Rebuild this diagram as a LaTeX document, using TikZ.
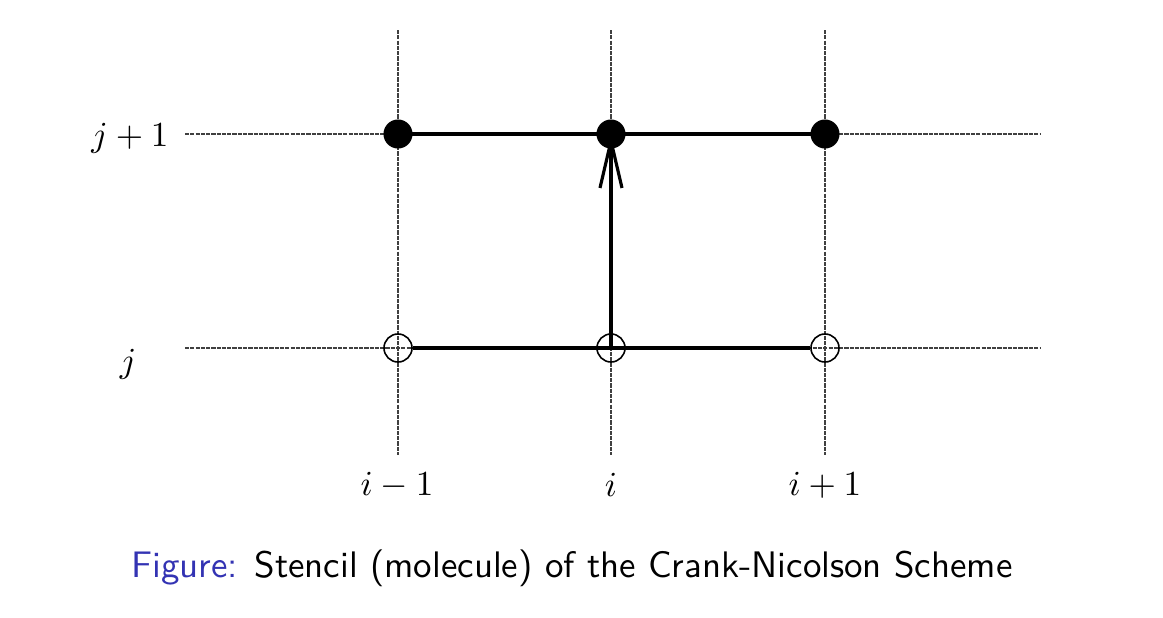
\documentclass[tikz,border=0pt]{standalone}
\usetikzlibrary{arrows.meta}
\definecolor{beamerblue}{RGB}{51,51,179}
\begin{document}
\begin{tikzpicture}[x=0.01cm,y=-0.01cm,
  gridline/.style={line width=0.35pt,black!75,dash pattern=on 1.2pt off 0.3pt},
  stencil/.style={line width=0.9pt},
  fulldot/.style={circle,fill=black,inner sep=0pt,minimum size=0.29cm},
  opendot/.style={circle,draw,line width=0.45pt,inner sep=0pt,minimum size=0.28cm},
  lbl/.style={font=\fontsize{10}{12}\selectfont}]
\useasboundingbox (0,0) rectangle (1163,618);
% grid
\foreach \x/\n in {398/a,611/b,825/c}{
  \coordinate (vt\n) at (\x,30);
  \coordinate (vb\n) at (\x,455);
  \draw[gridline] (vt\n) -- (vb\n);
}
\foreach \y/\n in {134/u,348/d}{
  \coordinate (hl\n) at (185,\y);
  \coordinate (hr\n) at (1040,\y);
  \draw[gridline] (hl\n) -- (hr\n);
}
% stencil points
\node[fulldot] (u1) at (398,134) {};
\node[fulldot] (u2) at (611,134) {};
\node[fulldot] (u3) at (825,134) {};
\node[opendot] (d1) at (398,348) {};
\node[opendot] (d2) at (611,348) {};
\node[opendot] (d3) at (825,348) {};
\draw[stencil] (u1.center) -- (u3.center);
\draw[stencil] (d1.east) -- (d3.west);
\draw[stencil,-{Straight Barb[length=0.47cm,width=0.22cm,line width=0.9pt]}] (d2.center) -- (u2.center);
% labels
\node[lbl] (lj1) at (130,138) {$j+1$};
\node[lbl] (lj) at (128,364) {$j$};
\node[lbl] (li0) at (397,485) {$i-1$};
\node[lbl] (li1) at (611,485) {$i$};
\node[lbl] (li2) at (825,485) {$i+1$};
\node[lbl,font=\fontsize{10.5}{12.5}\sffamily] (cap) at (572,568) {\textcolor{beamerblue}{Figure:} Stencil (molecule) of the Crank-Nicolson Scheme};
\end{tikzpicture}
\end{document}
